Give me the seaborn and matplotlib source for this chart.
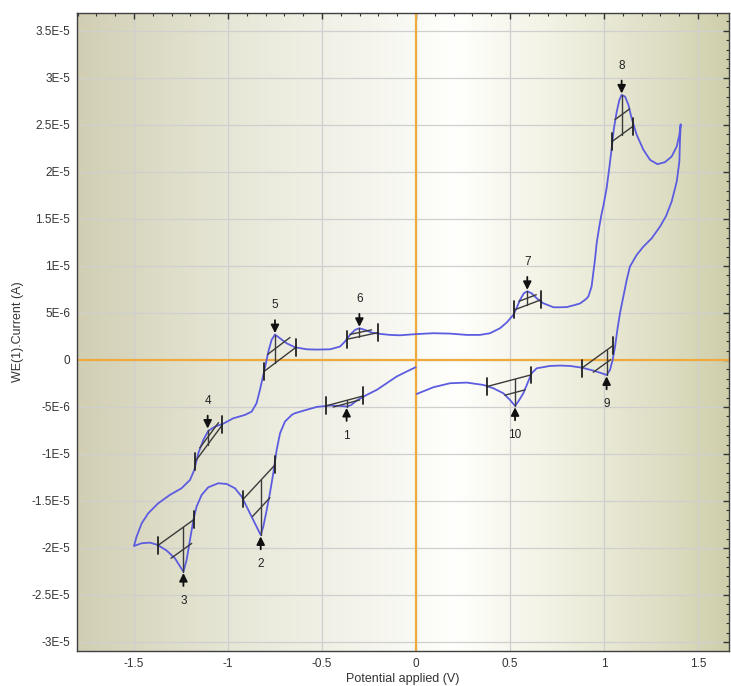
import numpy as np
import matplotlib
matplotlib.use("Agg")
import matplotlib.pyplot as plt
import seaborn as sns
from matplotlib.colors import LinearSegmentedColormap
from matplotlib.ticker import MultipleLocator, FuncFormatter

# Cyclic voltammogram: potential (V) and current (uA), one continuous sweep
potential_v = [
    -0.002, -0.050, -0.103, -0.156, -0.209, -0.262, -0.316, -0.345, -0.369, -0.404,
    -0.457, -0.528, -0.590, -0.644, -0.661, -0.697, -0.723, -0.741, -0.759, -0.777,
    -0.794, -0.812, -0.826, -0.848, -0.874, -0.900, -0.927, -0.963, -1.007, -1.052,
    -1.105, -1.140, -1.167, -1.184, -1.202, -1.220, -1.237, -1.243, -1.282, -1.326,
    -1.374, -1.415, -1.459, -1.500,
    -1.486, -1.459, -1.424, -1.371, -1.309, -1.247, -1.202, -1.179, -1.158, -1.131,
    -1.105, -1.069, -1.025, -0.972, -0.910, -0.874, -0.848, -0.830, -0.812, -0.798,
    -0.785, -0.768, -0.750, -0.723, -0.688, -0.644, -0.581, -0.528, -0.457, -0.404,
    -0.378, -0.351, -0.324, -0.301, -0.271, -0.236, -0.191, -0.138, -0.085, 0.004,
    0.092, 0.181, 0.270, 0.340, 0.394, 0.447, 0.482, 0.518, 0.535, 0.553,
    0.574, 0.592, 0.615, 0.642, 0.677, 0.731, 0.766, 0.802, 0.837, 0.872,
    0.900, 0.917, 0.934, 0.943, 0.952, 0.961, 0.975, 0.988, 0.997, 1.014,
    1.028, 1.041, 1.053, 1.068, 1.082, 1.094, 1.112, 1.130, 1.147, 1.174,
    1.210, 1.245, 1.284, 1.324, 1.360, 1.387, 1.401, 1.408,
    1.404, 1.401, 1.387, 1.360, 1.330, 1.298, 1.254, 1.210, 1.174, 1.138,
    1.121, 1.103, 1.085, 1.071, 1.059, 1.046, 1.032, 1.014, 0.988, 0.943,
    0.881, 0.819, 0.766, 0.713, 0.642, 0.615, 0.597, 0.571, 0.544, 0.527,
    0.500, 0.465, 0.411, 0.358, 0.270, 0.181, 0.092, 0.004,
]
current_ua = [
    -0.78, -1.24, -1.77, -2.48, -3.19, -3.72, -4.33, -4.80, -4.96, -4.89,
    -4.85, -5.00, -5.35, -5.67, -5.85, -6.56, -7.80, -9.57, -12.06, -14.18,
    -15.96, -17.73, -18.62, -17.73, -16.67, -15.60, -14.54, -13.65, -13.19, -13.12,
    -13.55, -14.36, -15.60, -17.02, -19.15, -21.28, -22.52, -22.34, -21.10, -20.28,
    -19.68, -19.43, -19.50, -19.79,
    -18.79, -17.38, -16.31, -15.25, -14.36, -13.65, -12.77, -11.70, -9.93, -8.51,
    -7.55, -7.09, -6.78, -6.21, -5.85, -5.50, -4.61, -3.19, -1.60, -0.35,
    0.89, 2.13, 2.70, 2.30, 1.77, 1.35, 1.13, 1.10, 1.13, 1.42,
    1.95, 2.66, 3.19, 3.37, 3.19, 2.91, 2.77, 2.66, 2.62, 2.75,
    2.84, 2.80, 2.66, 2.66, 2.84, 3.37, 3.97, 4.79, 5.50, 6.38,
    7.09, 7.30, 7.09, 6.56, 6.03, 5.60, 5.60, 5.62, 5.80, 6.00,
    6.40, 6.74, 7.80, 9.22, 10.64, 12.41, 14.18, 15.60, 16.40, 18.26,
    20.39, 22.52, 24.65, 26.42, 27.66, 28.19, 28.01, 27.13, 25.71, 23.94,
    22.34, 21.28, 20.82, 21.03, 21.63, 22.70, 23.94, 25.07,
    23.23, 21.10, 18.97, 16.84, 15.30, 14.18, 12.94, 12.06, 11.17, 9.93,
    8.51, 6.74, 4.96, 3.19, 1.42, 0.00, -1.06, -1.60, -1.42, -1.13,
    -0.82, -0.64, -0.60, -0.64, -0.89, -1.42, -2.30, -3.55, -4.43, -4.89,
    -4.26, -3.55, -3.01, -2.66, -2.41, -2.48, -2.91, -3.62,
]

# Peak markers: label, peak position, direction (+1 oxidation, -1 reduction)
peak_labels = ["1", "2", "3", "4", "5", "6", "7", "8", "9", "10"]
peak_x = [-0.369, -0.826, -1.237, -1.108, -0.750, -0.301, 0.592, 1.094, 1.014, 0.527]
peak_y = [-4.96, -18.62, -22.52, -7.45, 2.70, 3.37, 7.30, 28.19, -1.60, -4.89]
peak_dir = [-1, -1, -1, 1, 1, 1, 1, 1, -1, -1]

# Baseline end points for each peak
base_x1 = [-0.479, -0.918, -1.374, -1.173, -0.809, -0.369, 0.523, 1.043, 0.881, 0.376]
base_y1 = [-4.89, -14.79, -19.75, -10.76, -1.24, 2.19, 5.32, 23.23, -0.89, -2.84]
base_x2 = [-0.280, -0.750, -1.179, -1.030, -0.638, -0.200, 0.663, 1.152, 1.046, 0.610]
base_y2 = [-3.83, -11.17, -16.95, -6.91, 1.35, 2.91, 6.38, 24.82, 1.50, -1.60]

# Extent of the half-height width segment
half_x1 = [-0.440, -0.870, -1.303, -1.150, -0.790, -0.351, 0.548, 1.059, 0.943, 0.473]
half_x2 = [-0.300, -0.777, -1.193, -1.050, -0.670, -0.236, 0.640, 1.136, 1.035, 0.580]

x_ticks = [-1.5, -1.0, -0.5, 0.0, 0.5, 1.0, 1.5]

sns.set_style("white")
plt.rcParams["font.family"] = ["Liberation Sans", "DejaVu Sans"]

fig = plt.figure(figsize=(7.31, 6.86), dpi=100)
ax = fig.add_axes([77 / 731, 1 - 651 / 686, (729 - 77) / 731, (651 - 13) / 686])

# Horizontal shaded background (olive edges, bright centre)
bg = LinearSegmentedColormap.from_list(
    "bg",
    [(0.00, (0.82, 0.81, 0.70)),
     (0.25, (0.91, 0.91, 0.85)),
     (0.45, (0.96, 0.96, 0.93)),
     (0.58, (1.00, 1.00, 0.99)),
     (0.75, (0.94, 0.94, 0.88)),
     (0.90, (0.87, 0.87, 0.77)),
     (1.00, (0.81, 0.81, 0.67))])
ax.imshow(np.linspace(0, 1, 512)[None, :], extent=(0, 1, 0, 1), transform=ax.transAxes,
          aspect="auto", cmap=bg, zorder=0, interpolation="bilinear")

ax.set_xlim(-1.803, 1.665)
ax.set_ylim(-3.096e-5, 3.69e-5)

ax.set_axisbelow(True)
ax.grid(True, which="major", color="#cfcfcf", lw=0.9)
ax.axhline(0, color="#f0aa3c", lw=1.6, zorder=1)
ax.axvline(0, color="#f0aa3c", lw=1.6, zorder=1)

x_arr = np.array(potential_v)
y_arr = np.array(current_ua) * 1e-6
sns.lineplot(x=x_arr, y=y_arr, sort=False, estimator=None, color="#5c5ce0",
             lw=1.3, ax=ax, zorder=3)

line_col = "#3a3a3a"
bar_half = 0.9e-6
for i, lab in enumerate(peak_labels):
    x1, y1 = base_x1[i], base_y1[i] * 1e-6
    x2, y2 = base_x2[i], base_y2[i] * 1e-6
    xp, yp = peak_x[i], peak_y[i] * 1e-6
    slope = (y2 - y1) / (x2 - x1)
    yb = y1 + (xp - x1) * slope
    off = (yp - yb) / 2
    ax.plot([x1, x2], [y1, y2], color=line_col, lw=1.0, zorder=4)
    for xe, ye in ((x1, y1), (x2, y2)):
        ax.plot([xe, xe], [ye - bar_half, ye + bar_half], color="#222222", lw=1.3, zorder=4)
    ax.plot([xp, xp], [yp, yb], color=line_col, lw=1.0, zorder=4)
    hx1, hx2 = half_x1[i], half_x2[i]
    ax.plot([hx1, hx2], [y1 + (hx1 - x1) * slope + off, y1 + (hx2 - x1) * slope + off],
            color=line_col, lw=1.0, zorder=4)
    ax.annotate(lab, xy=(xp, yp), xytext=(0, 21 * peak_dir[i]), textcoords="offset points",
                ha="center", va="center", fontsize=8.5, color="#222222", zorder=5,
                arrowprops=dict(arrowstyle="-|>", color="#111111", lw=1.3,
                                shrinkA=4, shrinkB=1, mutation_scale=12))

# Axes, ticks and labels
ax.set_xticks(x_ticks)
ax.xaxis.set_minor_locator(MultipleLocator(0.1))
ax.yaxis.set_major_locator(MultipleLocator(5e-6))
ax.yaxis.set_minor_locator(MultipleLocator(1e-6))
ax.xaxis.set_major_formatter(FuncFormatter(lambda v, p: f"{v:g}"))


def sci_label(v, pos):
    if abs(v) < 1e-12:
        return "0"
    mant, exp = f"{v:.1E}".split("E")
    if mant.endswith(".0"):
        mant = mant[:-2]
    return f"{mant}E{int(exp)}"


ax.yaxis.set_major_formatter(FuncFormatter(sci_label))
ax.tick_params(which="both", direction="in", top=True, right=True,
               color="#333333", labelsize=8.5, labelcolor="#333333")
ax.tick_params(which="major", length=4, width=1.0, pad=5)
ax.tick_params(which="minor", length=2, width=0.8)
for sp in ax.spines.values():
    sp.set_color("#404040")
    sp.set_linewidth(1.0)

ax.set_xlabel("Potential applied (V)", fontsize=9, color="#333333", labelpad=2)
ax.set_ylabel("WE(1).Current (A)", fontsize=9, color="#333333", labelpad=5)

fig.savefig("out.png", dpi=100)
